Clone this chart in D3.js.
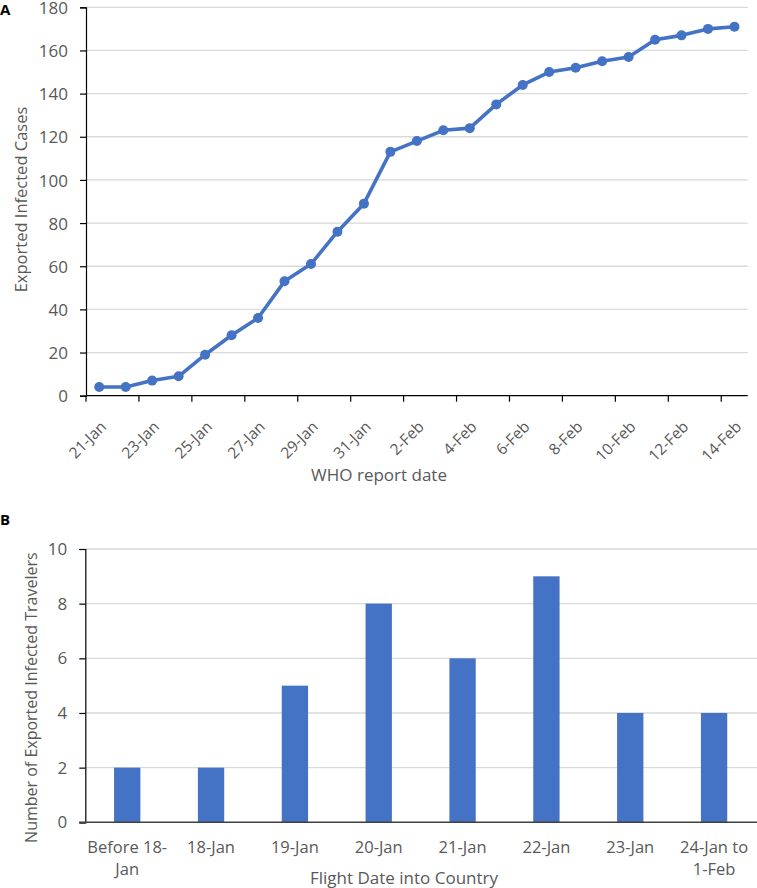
<!DOCTYPE html>
<html>
<head>
<meta charset="utf-8">
<script src="https://cdn.jsdelivr.net/npm/d3@7"></script>
<style>
  body { margin: 0; background: #fff; }
  text { font-family: "Open Sans", sans-serif; fill: #595959; }
</style>
</head>
<body>
<div id="chart"></div>
<script>
// panel A: cumulative exported cases by WHO report date
const reportDates = ['21-Jan', '22-Jan', '23-Jan', '24-Jan', '25-Jan', '26-Jan', '27-Jan', '28-Jan',
    '29-Jan', '30-Jan', '31-Jan', '1-Feb', '2-Feb', '3-Feb', '4-Feb', '5-Feb', '6-Feb', '7-Feb',
    '8-Feb', '9-Feb', '10-Feb', '11-Feb', '12-Feb', '13-Feb', '14-Feb'];
const exportedCases = [4, 4, 7, 9, 19, 28, 36, 53, 61, 76, 89, 113, 118, 123, 124, 135, 144, 150,
    152, 155, 157, 165, 167, 170, 171];
const casesTicks = [0, 20, 40, 60, 80, 100, 120, 140, 160, 180];

// panel B: infected travelers by flight date
const flightDates = [['Before 18-', 'Jan'], ['18-Jan'], ['19-Jan'], ['20-Jan'], ['21-Jan'],
    ['22-Jan'], ['23-Jan'], ['24-Jan to', '1-Feb']];
const travelers = [2, 2, 5, 8, 6, 9, 4, 4];
const travelerTicks = [0, 2, 4, 6, 8, 10];

const blue = '#4472C4';
const grid = '#d9d9d9';

const svg = d3.select('#chart').append('svg')
    .attr('width', 757)
    .attr('height', 888);

// ---------- A ----------
const a = { left: 86, right: 747.7, top: 7.3, bottom: 395.7 };

const xA = d3.scaleBand().domain(reportDates).range([a.left, a.right]);
const yA = d3.scaleLinear().domain([0, 180]).range([a.bottom, a.top]);

svg.append('g').selectAll('line')
    .data(casesTicks.filter(d => d > 0))
    .enter().append('line')
    .attr('x1', a.left).attr('x2', a.right)
    .attr('y1', d => yA(d)).attr('y2', d => yA(d))
    .attr('stroke', grid).attr('stroke-width', 1.3);

const yAxisA = svg.append('g')
    .attr('transform', 'translate(' + a.left + ',0)')
    .call(d3.axisLeft(yA).tickValues(casesTicks).tickSize(6).tickPadding(12));
yAxisA.select('.domain').attr('stroke', '#000').attr('stroke-width', 1.2);
yAxisA.selectAll('.tick line').attr('stroke', '#000').attr('stroke-width', 1.2);
yAxisA.selectAll('.tick text').style('font-size', '17px').style('font-family', '"Open Sans", sans-serif')
    .attr('fill', '#595959').attr('dy', '0.36em');

// x axis: ticks on category edges every second day
const evenDates = reportDates.filter((d, i) => i % 2 === 0);
svg.append('line')
    .attr('x1', a.left).attr('x2', a.right)
    .attr('y1', a.bottom).attr('y2', a.bottom)
    .attr('stroke', '#000').attr('stroke-width', 1.2);
svg.append('g').selectAll('line')
    .data(evenDates)
    .enter().append('line')
    .attr('x1', d => xA(d)).attr('x2', d => xA(d))
    .attr('y1', a.bottom).attr('y2', a.bottom + 6)
    .attr('stroke', '#000').attr('stroke-width', 1.2);
svg.append('g').selectAll('text')
    .data(evenDates)
    .enter().append('text')
    .attr('transform', d => 'translate(' + (xA(d) + xA.bandwidth() / 2 + 8) + ',' + (a.bottom + 32) + ') rotate(-45)')
    .attr('text-anchor', 'end')
    .style('font-size', '15.5px')
    .text(d => d);

const line = d3.line()
    .x((d, i) => xA(reportDates[i]) + xA.bandwidth() / 2)
    .y(d => yA(d));

svg.append('path')
    .datum(exportedCases)
    .attr('d', line)
    .attr('fill', 'none')
    .attr('stroke', blue)
    .attr('stroke-width', 3.6)
    .attr('stroke-linejoin', 'round');

svg.append('g').selectAll('circle')
    .data(exportedCases)
    .enter().append('circle')
    .attr('cx', (d, i) => xA(reportDates[i]) + xA.bandwidth() / 2)
    .attr('cy', d => yA(d))
    .attr('r', 5)
    .attr('fill', blue);

svg.append('text')
    .attr('transform', 'translate(27,' + ((a.top + a.bottom) / 2 - 2) + ') rotate(-90)')
    .attr('text-anchor', 'middle')
    .style('font-size', '16.5px')
    .text('Exported Infected Cases');

svg.append('text')
    .attr('x', 379).attr('y', 481)
    .attr('text-anchor', 'middle')
    .style('font-size', '17px')
    .text('WHO report date');

svg.append('text')
    .attr('x', 0).attr('y', 15)
    .style('font-size', '15px').style('font-weight', 'bold').style('fill', '#000')
    .text('A');

// ---------- B ----------
const b = { left: 85.3, right: 757, top: 549, bottom: 822.3 };
const bandEnd = 756;

const xB = d3.scaleBand()
    .domain(flightDates.map(d => d.join(' ')))
    .range([b.left, bandEnd])
    .paddingInner(0.686)
    .paddingOuter(0.343);
const yB = d3.scaleLinear().domain([0, 10]).range([b.bottom, b.top]);

svg.append('g').selectAll('line')
    .data(travelerTicks.filter(d => d > 0))
    .enter().append('line')
    .attr('x1', b.left).attr('x2', b.right)
    .attr('y1', d => yB(d)).attr('y2', d => yB(d))
    .attr('stroke', grid).attr('stroke-width', 1.3);

svg.append('g').selectAll('rect')
    .data(travelers)
    .enter().append('rect')
    .attr('x', (d, i) => xB(flightDates[i].join(' ')))
    .attr('y', d => yB(d))
    .attr('width', xB.bandwidth())
    .attr('height', d => yB(0) - yB(d))
    .attr('fill', blue);

const yAxisB = svg.append('g')
    .attr('transform', 'translate(' + b.left + ',0)')
    .call(d3.axisLeft(yB).tickValues(travelerTicks).tickSize(6).tickPadding(12));
yAxisB.select('.domain').attr('stroke', '#000').attr('stroke-width', 1.2);
yAxisB.selectAll('.tick line').attr('stroke', '#000').attr('stroke-width', 1.2);
yAxisB.selectAll('.tick text').style('font-size', '17px').style('font-family', '"Open Sans", sans-serif').attr('fill', '#595959');

svg.append('line')
    .attr('x1', b.left - 6).attr('x2', b.right)
    .attr('y1', b.bottom).attr('y2', b.bottom)
    .attr('stroke', '#404040').attr('stroke-width', 1.6);

const xLabels = svg.append('g').selectAll('text')
    .data(flightDates)
    .enter().append('text')
    .attr('text-anchor', 'middle')
    .style('font-size', '16.5px');
xLabels.selectAll('tspan')
    .data(d => d.map(t => ({ t: t, key: d.join(' ') })))
    .enter().append('tspan')
    .attr('x', d => xB(d.key) + xB.bandwidth() / 2)
    .attr('y', (d, i) => 853 + i * 22)
    .text(d => d.t);

svg.append('text')
    .attr('transform', 'translate(37,' + ((b.top + b.bottom) / 2 + 12) + ') rotate(-90)')
    .attr('text-anchor', 'middle')
    .style('font-size', '16px')
    .text('Number of Exported Infected Travelers');

svg.append('text')
    .attr('x', 404).attr('y', 884)
    .attr('text-anchor', 'middle')
    .style('font-size', '17px')
    .text('Flight Date into Country');

svg.append('text')
    .attr('x', 0).attr('y', 525)
    .style('font-size', '15px').style('font-weight', 'bold').style('fill', '#000')
    .text('B');
</script>
</body>
</html>
